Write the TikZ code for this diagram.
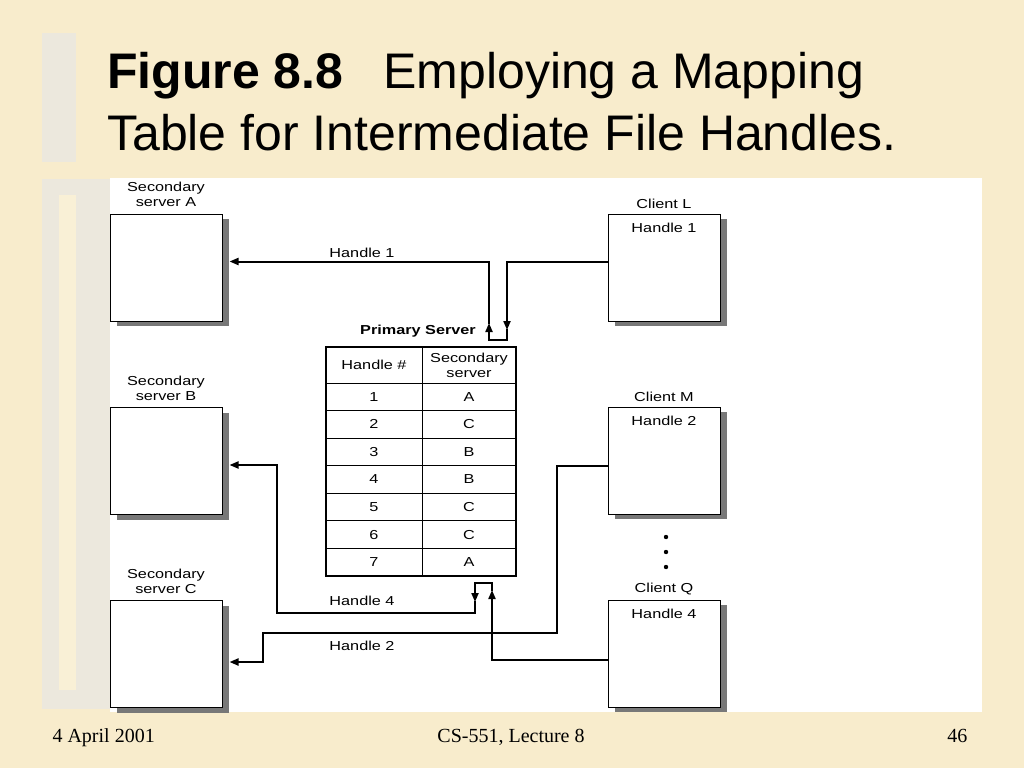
\documentclass[tikz,border=0pt]{standalone}
\usepackage{fontspec}
\setmainfont{Liberation Serif}
\newfontfamily\titlefont{Liberation Sans}
\newfontfamily\diagfont[FakeStretch=1.25]{Liberation Sans}
\usetikzlibrary{arrows.meta, positioning, shadows}
\definecolor{Parchment}{RGB}{248,236,204}
\definecolor{PanelGray}{RGB}{236,232,221}
\definecolor{PanelBar}{RGB}{249,240,214}
\definecolor{ShadowGray}{RGB}{120,120,120}

\tikzset{
  box/.style={draw, fill=white, line width=1pt, minimum width=112pt, minimum height=107pt,
    drop shadow={shadow xshift=7pt, shadow yshift=-5pt, fill=ShadowGray, opacity=1}},
  link/.style={line width=2pt},
  arr/.style={-{Triangle[length=9pt,width=7pt]}},
}

\begin{document}
\begin{tikzpicture}[x=1pt, y=-1pt, font=\diagfont\fontsize{13}{15}\selectfont]
  \useasboundingbox (0,0) rectangle (1024,768);
  % Slide background
  \fill[Parchment] (0,0) rectangle (1024,768);
  \fill[PanelGray] (42,33) rectangle (76,162);
  \fill[PanelGray] (42,179) rectangle (110,709);
  \fill[PanelBar] (59,195) rectangle (76,690);
  \fill[white] (110,178) rectangle (982,712);
  % Title
  \node[anchor=base west, inner sep=0pt, align=left, font=\titlefont\fontsize{50}{62}\selectfont] (title) at (107,150)
    {{\bfseries Figure 8.8}\hspace{40pt}Employing a Mapping\\Table for Intermediate File Handles.};
  % Secondary servers
  \node[box, label={[align=center, label distance=3pt]above:Secondary\\server A}] (srvA) at (166,267.5) {};
  \node[box, label={[align=center, label distance=3pt]above:Secondary\\server B}] (srvB) at (166,461) {};
  \node[box, label={[align=center, label distance=3pt]above:Secondary\\server C}] (srvC) at (166,654) {};
  % Clients
  \node[box, label={[label distance=1pt]above:Client L}, label={[anchor=north, yshift=-6pt]north:Handle 1}] (cliL) at (664,267.5) {};
  \node[box, label={[label distance=1pt]above:Client M}, label={[anchor=north, yshift=-6pt]north:Handle 2}] (cliM) at (664,460.5) {};
  \node[box, label={[label distance=1pt]above:Client Q}, label={[anchor=north, yshift=-6pt]north:Handle 4}] (cliQ) at (664,653.5) {};
  \fill (666,537) circle (2.2pt) (666,552) circle (2.2pt) (666,567) circle (2.2pt); % more clients
  % Primary server mapping table
  \node[font=\diagfont\fontsize{13}{15}\selectfont\bfseries] (prim) at (418,331) {Primary Server};
  \node[draw, line width=1.8pt, minimum width=190pt, minimum height=229pt] (tab) at (421,461.5) {};
  \draw[line width=1pt] (422,347) -- (422,576);
  \node (hd1) at (374,365) {Handle \#};
  \node[align=center] (hd2) at (469,365) {Secondary\\server};
  \foreach \n/\s [count=\k] in {1/A,2/C,3/B,4/B,5/C,6/C,7/A} {
    \draw[line width=1pt] (326,{355.43+\k*27.57}) -- (516,{355.43+\k*27.57});
    \node (n\k) at (374,{369.2+\k*27.57}) {\n};
    \node (s\k) at (469,{369.2+\k*27.57}) {\s};
  }
  % Handle 1: client L -> primary -> server A
  \coordinate (inL) at (507,330);
  \coordinate (outA) at (489,323);
  \draw[link, arr] ([yshift=6pt]cliL.west) -| (inL);
  \draw[link, arr] ([yshift=1pt]inL) |- (489,340) -- (outA);
  \draw[link, arr] ([yshift=-1pt]outA) |- ([xshift=7pt, yshift=6pt]srvA.east);
  \node (lab1) at (362,253) {Handle 1};
  % Handle 4: client Q -> primary -> server B
  \coordinate (inQ) at (492,590);
  \coordinate (outB) at (475,602);
  \draw[link, arr] ([yshift=-6pt]cliQ.west) -| (inQ);
  \draw[link, arr] ([yshift=-1pt]inQ) |- (475,583) -- (outB);
  \draw[link, arr] ([yshift=1pt]outB) |- (277,613) |- ([xshift=7pt, yshift=-4pt]srvB.east);
  \node (lab4) at (362,601) {Handle 4};
  % Handle 2: client M -> server C
  \draw[link, arr] ([yshift=-5pt]cliM.west) -| (557,633) -| (263,662) -- ([xshift=7pt, yshift=-8pt]srvC.east);
  \node (lab2) at (362,646) {Handle 2};
  % Footer
  \node[anchor=base west, font=\fontsize{20}{24}\selectfont] (date) at (49,742) {4 April 2001};
  \node[anchor=base, font=\fontsize{20}{24}\selectfont] (course) at (511,742) {CS-551, Lecture 8};
  \node[anchor=base east, font=\fontsize{20}{24}\selectfont] (page) at (971,742) {46};
\end{tikzpicture}
\end{document}
